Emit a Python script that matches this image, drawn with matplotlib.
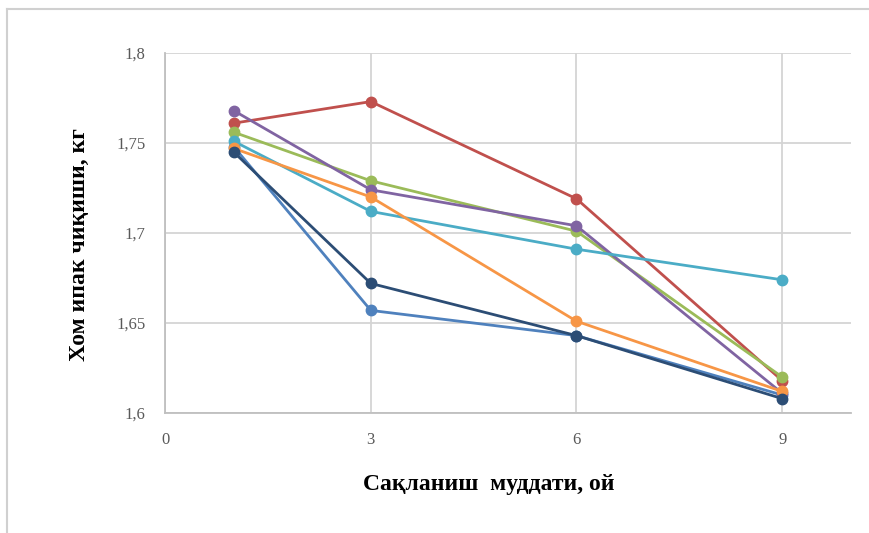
import matplotlib.pyplot as plt
from matplotlib.lines import Line2D
from matplotlib.ticker import FuncFormatter

# storage time, months
months = [1, 3, 6, 9]

# raw silk yield, kg
blue = [1.748, 1.657, 1.643, 1.610]
red = [1.761, 1.773, 1.719, 1.618]
green = [1.756, 1.729, 1.701, 1.620]
purple = [1.768, 1.724, 1.704, 1.611]
cyan = [1.751, 1.712, 1.691, 1.674]
orange = [1.747, 1.720, 1.651, 1.612]
navy = [1.745, 1.672, 1.643, 1.608]

series = [blue, red, green, purple, cyan, orange, navy]
colors = ['#4F81BD', '#C0504D', '#9BBB59', '#8064A2', '#4BACC6', '#F79646', '#2C4D75']

x_ticks = [0, 3, 6, 9]
y_ticks = [1.6, 1.65, 1.7, 1.75, 1.8]

plt.rcParams['font.family'] = ['Liberation Serif', 'DejaVu Serif']

fig = plt.figure(figsize=(8.69, 5.33), dpi=100)
ax = fig.add_axes([0.190, 0.2251, 0.789, 0.6755])

for vals, c in zip(series, colors):
    ax.plot(months, vals, color=c, linewidth=2, marker='o', markersize=7.5, zorder=3)

ax.set_xlim(0, 10)
ax.set_ylim(1.6, 1.8)
ax.set_xticks(x_ticks)
ax.set_yticks(y_ticks)
ax.yaxis.set_major_formatter(FuncFormatter(lambda v, p: ('%g' % v).replace('.', ',')))
ax.tick_params(length=0, labelsize=12, labelcolor='#595959', pad=14)

ax.grid(True, color='#D4D4D4', linewidth=1.3, zorder=0)
for s in ['top', 'right']:
    ax.spines[s].set_visible(False)
for s in ['left', 'bottom']:
    ax.spines[s].set_color('#BFBFBF')
    ax.spines[s].set_linewidth(1.3)

ax.set_xlabel('Сақланиш  муддати, ой', fontsize=17, fontweight='bold')
ax.xaxis.set_label_coords(0.472, -0.168)
ax.set_ylabel('Хом ипак чиқиши, кг', fontsize=17, fontweight='bold')
ax.yaxis.set_label_coords(-0.11, 0.467)

# light frame around the chart area
fig.add_artist(Line2D([7 / 869, 1], [1 - 9 / 533] * 2, color='#D0D0D0', linewidth=1.5))
fig.add_artist(Line2D([7 / 869] * 2, [0, 1 - 9 / 533], color='#D0D0D0', linewidth=1.5))

fig.savefig('out.png', dpi=100)
